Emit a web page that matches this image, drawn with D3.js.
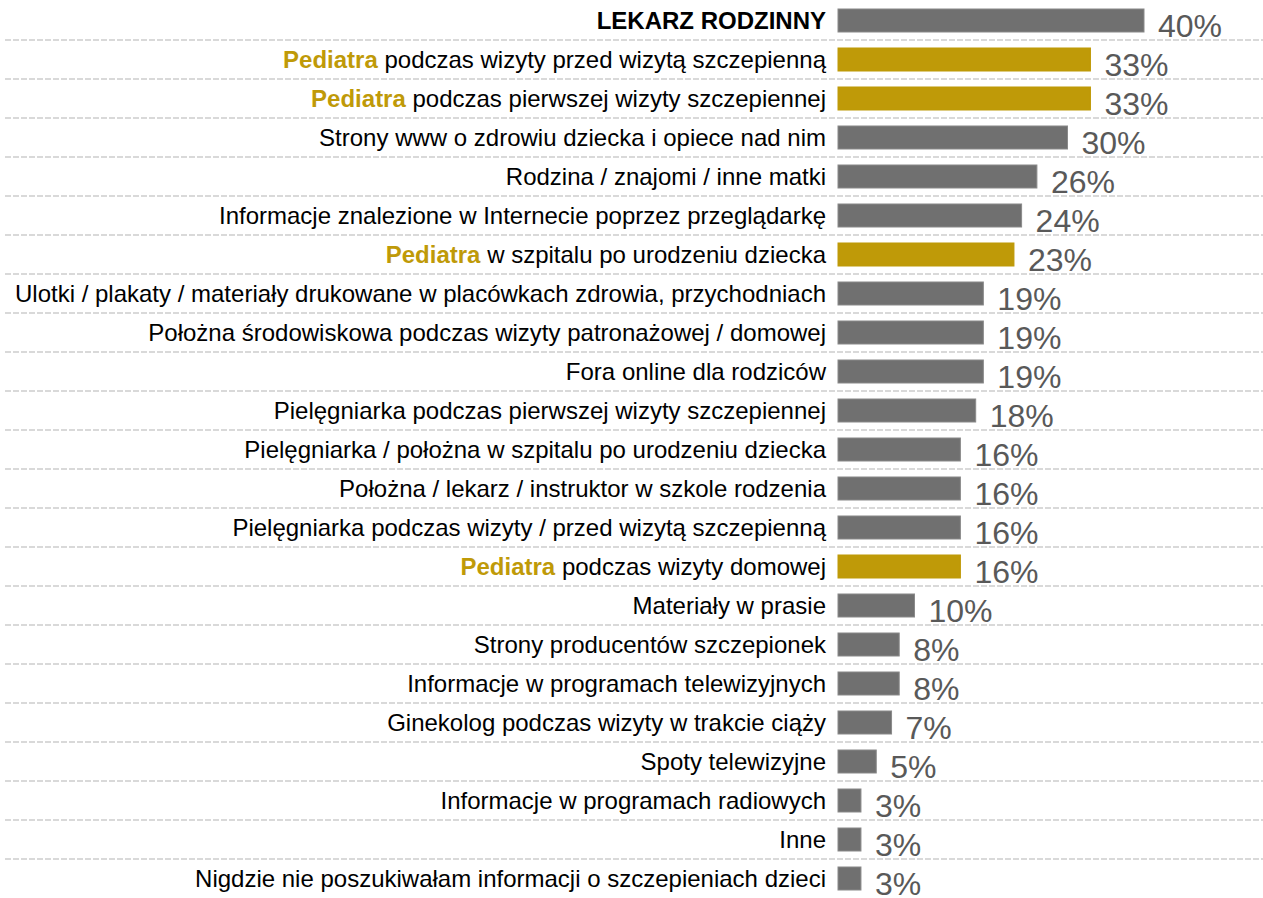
<!DOCTYPE html>
<html lang="pl">
<head>
<meta charset="UTF-8">
<title>Źródła informacji o szczepieniach</title>
<script src="https://cdnjs.cloudflare.com/ajax/libs/d3/7.8.0/d3.min.js"></script>
<style>
    body { margin: 0; background: #fff; }
    svg { display: block; font-family: "Liberation Sans", Arial, sans-serif; }
</style>
</head>
<body>
<svg id="viz" width="1263" height="898"></svg>
<script>
    // labels, split into highlighted prefix and the rest
    const prefixes = [
        "LEKARZ RODZINNY", "Pediatra", "Pediatra", "", "", "", "Pediatra",
        "", "", "", "", "", "", "", "Pediatra", "", "", "", "", "", "", "", ""
    ];
    const categories = [
        "",
        " podczas wizyty przed wizytą szczepienną",
        " podczas pierwszej wizyty szczepiennej",
        "Strony www o zdrowiu dziecka i opiece nad nim",
        "Rodzina / znajomi / inne matki",
        "Informacje znalezione w Internecie poprzez przeglądarkę",
        " w szpitalu po urodzeniu dziecka",
        "Ulotki / plakaty / materiały drukowane w placówkach zdrowia, przychodniach",
        "Położna środowiskowa podczas wizyty patronażowej / domowej",
        "Fora online dla rodziców",
        "Pielęgniarka podczas pierwszej wizyty szczepiennej",
        "Pielęgniarka / położna w szpitalu po urodzeniu dziecka",
        "Położna / lekarz / instruktor w szkole rodzenia",
        "Pielęgniarka podczas wizyty / przed wizytą szczepienną",
        " podczas wizyty domowej",
        "Materiały w prasie",
        "Strony producentów szczepionek",
        "Informacje w programach telewizyjnych",
        "Ginekolog podczas wizyty w trakcie ciąży",
        "Spoty telewizyjne",
        "Informacje w programach radiowych",
        "Inne",
        "Nigdzie nie poszukiwałam informacji o szczepieniach dzieci"
    ];
    const values = [40, 33, 33, 30, 26, 24, 23, 19, 19, 19, 18, 16, 16, 16, 16, 10, 8, 8, 7, 5, 3, 3, 3];

    const W = 1263, H = 898;
    const gold = "#bf9a08", grey = "#707070";

    const svg = d3.select("#viz");
    const idx = d3.range(values.length);

    const x = d3.scaleLinear().domain([0, 40]).range([838, 1144]);
    const y = d3.scaleBand().domain(idx).range([1, H])
        .paddingInner(0.41).paddingOuter(0.205);
    const step = y.step(), bw = y.bandwidth();

    const isPed = i => prefixes[i] === "Pediatra";

    // dashed separators
    svg.append("g").selectAll("line")
        .data(idx.slice(0, -1))
        .join("line")
        .attr("x1", 5).attr("x2", W)
        .attr("y1", i => y(i) + bw + (step - bw) / 2)
        .attr("y2", i => y(i) + bw + (step - bw) / 2)
        .attr("stroke", "#d9d9d9")
        .attr("stroke-width", 2)
        .attr("stroke-dasharray", "6,2");

    // bars
    svg.append("g").selectAll("rect")
        .data(idx)
        .join("rect")
        .attr("x", x(0))
        .attr("y", i => y(i))
        .attr("width", i => x(values[i]) - x(0))
        .attr("height", bw)
        .attr("fill", i => isPed(i) ? gold : grey)
        .attr("stroke", i => isPed(i) ? gold : "#8a8a8a")
        .attr("stroke-width", 1);

    // category labels
    const lab = svg.append("g").selectAll("text")
        .data(idx)
        .join("text")
        .attr("x", 826)
        .attr("y", i => y(i) + bw / 2 + 8.5)
        .attr("text-anchor", "end")
        .attr("font-size", 24)
        .attr("fill", "#000");
    lab.append("tspan")
        .attr("font-weight", "bold")
        .attr("fill", i => isPed(i) ? gold : "#000")
        .text(i => prefixes[i]);
    lab.append("tspan")
        .text(i => categories[i]);

    // value labels
    svg.append("g").selectAll("text")
        .data(idx)
        .join("text")
        .attr("x", i => x(values[i]) + 14)
        .attr("y", i => y(i) + bw / 2 + 16)
        .attr("font-size", 32)
        .attr("fill", "#595959")
        .text(i => values[i] + "%");
</script>
</body>
</html>
